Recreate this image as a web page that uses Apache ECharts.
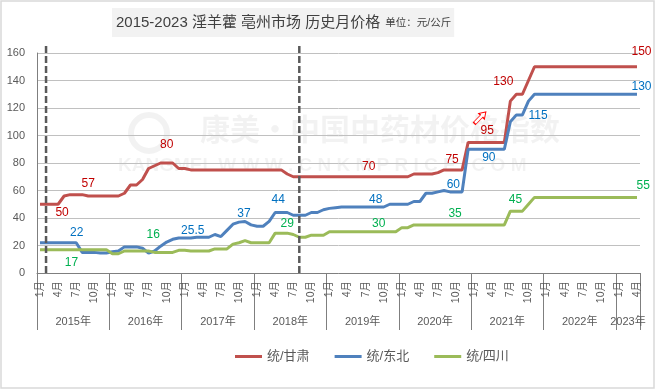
<!DOCTYPE html>
<html><head><meta charset="utf-8">
<script src="https://cdn.jsdelivr.net/npm/echarts@6/dist/echarts.min.js"></script>
<style>html,body{margin:0;padding:0;background:#fff}#c{width:656px;height:391px}</style>
</head><body><div id="c"></div>
<script>
// ---------------- data ----------------
const years = [2015, 2016, 2017, 2018, 2019, 2020, 2021, 2022, 2023];
const lastYearMonths = 4;
const seriesNames = ['统/甘肃', '统/东北', '统/四川'];
const shownMonths = ['1', '4', '7', '10'];

const gansu = [
  50,50,50,50,56,57,57,57,56,56,56,56,
  56,56,58,64,64,68,76,78,80,80,80,76,
  76,75,75,75,75,75,75,75,75,75,75,75,
  75,75,75,75,75,72,70,70,70,70,70,70,
  70,70,70,70,70,70,70,70,70,70,70,70,
  70,70,72,72,72,72,73,75,75,75,75,95,
  95,95,95,95,95,95,125,130,130,140,150,150,
  150,150,150,150,150,150,150,150,150,150,150,150,
  150,150,150,150
];
const dongbei = [
  22,22,22,22,22,22,22,15,15,15,14.5,14.5,
  15.5,16,19,19,19,18,14.5,16,19.5,22.5,24.5,25.5,
  25.5,25.5,26,26,26,28,26.5,31,35.5,37,37.5,35,
  34,34,37.5,44,44,44,42,42,42,44,44,46,
  47,47.5,48,48,48,48,48,48,48,48,50,50,
  50,50,52,52,58,58,59,60,59,59,59,90,
  90,90,90,90,90,90,110,115,115,125,130,130,
  130,130,130,130,130,130,130,130,130,130,130,130,
  130,130,130,130
];
const sichuan = [
  17,17,17,17,17,17,17,17,17,17,17,17,
  14,14,16,16,16,16,16,15,15,15,15,16.5,
  16.5,16,16,16,16,17.5,17.5,17.5,21,22,23.5,22,
  22,22,22,29,29,29,28,26,26,27.5,27.5,27.5,
  30,30,30,30,30,30,30,30,30,30,30,30,
  33,33,35,35,35,35,35,35,35,35,35,35,
  35,35,35,35,35,35,45,45,45,50,55,55,
  55,55,55,55,55,55,55,55,55,55,55,55,
  55,55,55,55
];
// which month indices carry a value label
const gansuLabelAt   = [3, 7, 21, 55, 68, 74, 79, 99];
const dongbeiLabelAt = [6, 25, 33, 40, 56, 67, 74, 80, 99];
const sichuanLabelAt = [5, 18, 41, 57, 69, 79, 99];
// vertical dashed dividers (month index) and their top value
const dividerAt = [1, 43];
const dividerTop = 167;
// arrow note position (month index, value)
const arrowAt = [72.5, 113];

// ---------------- styles ----------------
const FONT = '"Liberation Sans", "Noto Sans CJK SC", sans-serif';
const lineColors = ['#C0504D', '#4F81BD', '#9BBB59'];
const labelColors = ['#C00000', '#0070C0', '#00B050'];
const gansuOff   = [[4,8.5],[6,-10.6],[0,-18],[-3,-10.5],[2,-10],[1,-12],[-13,-12.5],[4.5,-15]];
const dongbeiOff = [[0.5,-10],[2,-7],[5,-8],[-3,-12.5],[-2,-7],[9.3,-6.3],[2.6,8.3],[15.7,1],[4.5,-7.5]];
const sichuanOff = [[1.3,13.3],[4.6,-16.1],[0,-9.2],[-5,-8],[-1,-11],[-1,-11.4],[6.3,-12]];

// ---------------- build ----------------
const months = [];
const bounds = [0];
years.forEach((y, k) => {
  const n = k === years.length - 1 ? lastYearMonths : 12;
  for (let m = 1; m <= n; m++) months.push(y + '-' + m);
  bounds.push(bounds[bounds.length - 1] + n);
});
const mids = years.map((y, k) => (bounds[k] + bounds[k + 1]) / 2);

function mkData(vals, at, offs, color) {
  return vals.map((v, i) => {
    const k = at.indexOf(i);
    if (k < 0) return v;
    return { value: v, label: { show: true, position: 'inside', offset: offs[k], color: color, fontSize: 12, fontFamily: FONT } };
  });
}

const dataSets = [
  mkData(gansu, gansuLabelAt, gansuOff, labelColors[0]),
  mkData(dongbei, dongbeiLabelAt, dongbeiOff, labelColors[1]),
  mkData(sichuan, sichuanLabelAt, sichuanOff, labelColors[2])
];

const series = seriesNames.map((name, k) => ({
  name: name, type: 'line', data: dataSets[k],
  showSymbol: true, showAllSymbol: true, symbol: 'circle', symbolSize: 0,
  lineStyle: { color: lineColors[k], width: 3 },
  itemStyle: { color: lineColors[k] },
  label: { show: false },
  emphasis: { disabled: true },
  z: 3
}));
series[0].markPoint = {
  silent: true,
  data: [{
    coord: arrowAt,
    symbol: 'path://M5,0 L10,6 L7,6 L7,16 L3,16 L3,6 L0,6 Z',
    symbolSize: [8, 16], symbolRotate: -45,
    itemStyle: { color: '#ffffff', borderColor: '#FF0000', borderWidth: 1 },
    label: { show: false }
  }]
};
dividerAt.forEach(idx => {
  series.push({
    type: 'line', data: [[idx, 0], [idx, dividerTop]], clip: false, symbol: 'none', silent: true,
    lineStyle: { color: '#595959', width: 2.5, type: [7, 3] }, z: 5
  });
});

const chart = echarts.init(document.getElementById('c'), null, { renderer: 'canvas' });
chart.setOption({
  animation: false,
  backgroundColor: '#ffffff',
  textStyle: { fontFamily: FONT },
  title: {
    text: '{a|2015-2023 淫羊藿 亳州市场 历史月价格} {b|单位：元/公斤}',
    left: 112, top: 8,
    backgroundColor: '#f2f2f2',
    padding: [6, 3, 5, 4],
    textStyle: { fontWeight: 'normal', rich: {
      a: { fontSize: 15, color: '#404040', fontFamily: FONT, fontWeight: 'normal' },
      b: { fontSize: 10.5, color: '#404040', fontFamily: FONT, fontWeight: 'normal' }
    } }
  },
  legend: {
    data: seriesNames, left: 230, top: 345, icon: 'rect',
    itemWidth: 27, itemHeight: 3, itemGap: 25,
    textStyle: { fontSize: 13, color: '#595959', fontFamily: FONT }
  },
  grid: { left: 37, right: 16, top: 53, bottom: 118, outerBoundsMode: 'none' },
  xAxis: [{
    type: 'category', data: months, boundaryGap: true, position: 'bottom',
    axisLine: { show: true, lineStyle: { color: '#7f7f7f', width: 1 } },
    axisTick: { show: false },
    axisLabel: {
      interval: (i, v) => shownMonths.indexOf(v.split('-')[1]) >= 0,
      formatter: v => v.split('-')[1] + '月',
      rotate: 90, margin: 8, fontSize: 10.5, color: '#595959', fontFamily: FONT, hideOverlap: false
    },
    splitLine: { show: false }
  }, {
    type: 'value', min: 0, max: bounds[bounds.length - 1], position: 'bottom',
    axisLine: { show: false },
    axisTick: { show: true, customValues: bounds, length: 57, lineStyle: { color: '#7f7f7f', width: 1 } },
    axisLabel: {
      customValues: mids, margin: 43, fontSize: 11, color: '#595959', fontFamily: FONT,
      formatter: v => years[mids.indexOf(v)] + '年'
    },
    splitLine: { show: false }
  }],
  yAxis: {
    type: 'value', min: 0, max: 160, interval: 20,
    axisLine: { show: true, lineStyle: { color: '#7f7f7f', width: 1 } },
    axisTick: { show: false },
    axisLabel: { margin: 12, fontSize: 11, color: '#595959', fontFamily: FONT },
    splitLine: { lineStyle: { color: '#c0c0c0', width: 1 } }
  },
  graphic: [
    { type: 'rect', z: 100, silent: true, shape: { x: 1, y: 1, width: 653, height: 387 },
      style: { fill: 'none', stroke: '#d9d9d9', lineWidth: 1.5 } },
    { type: 'text', z: 0, silent: true, left: 200, top: 114,
      style: { text: '康美·中国中药材价格指数', font: 'bold 30px "Noto Sans CJK SC"', fill: 'rgba(0,0,0,0.05)' } },
    { type: 'text', z: 0, silent: true, left: 118, top: 156,
      style: { text: 'KANGMEI  W W W . C N K M P R I C E . C O M', font: 'bold 19px "Liberation Sans"', fill: 'rgba(0,0,0,0.05)' } },
    { type: 'circle', z: 0, silent: true, left: 128, top: 112,
      shape: { r: 18 }, style: { fill: 'none', stroke: 'rgba(0,0,0,0.05)', lineWidth: 6 } }
  ],
  series: series
});
</script>
</body></html>
